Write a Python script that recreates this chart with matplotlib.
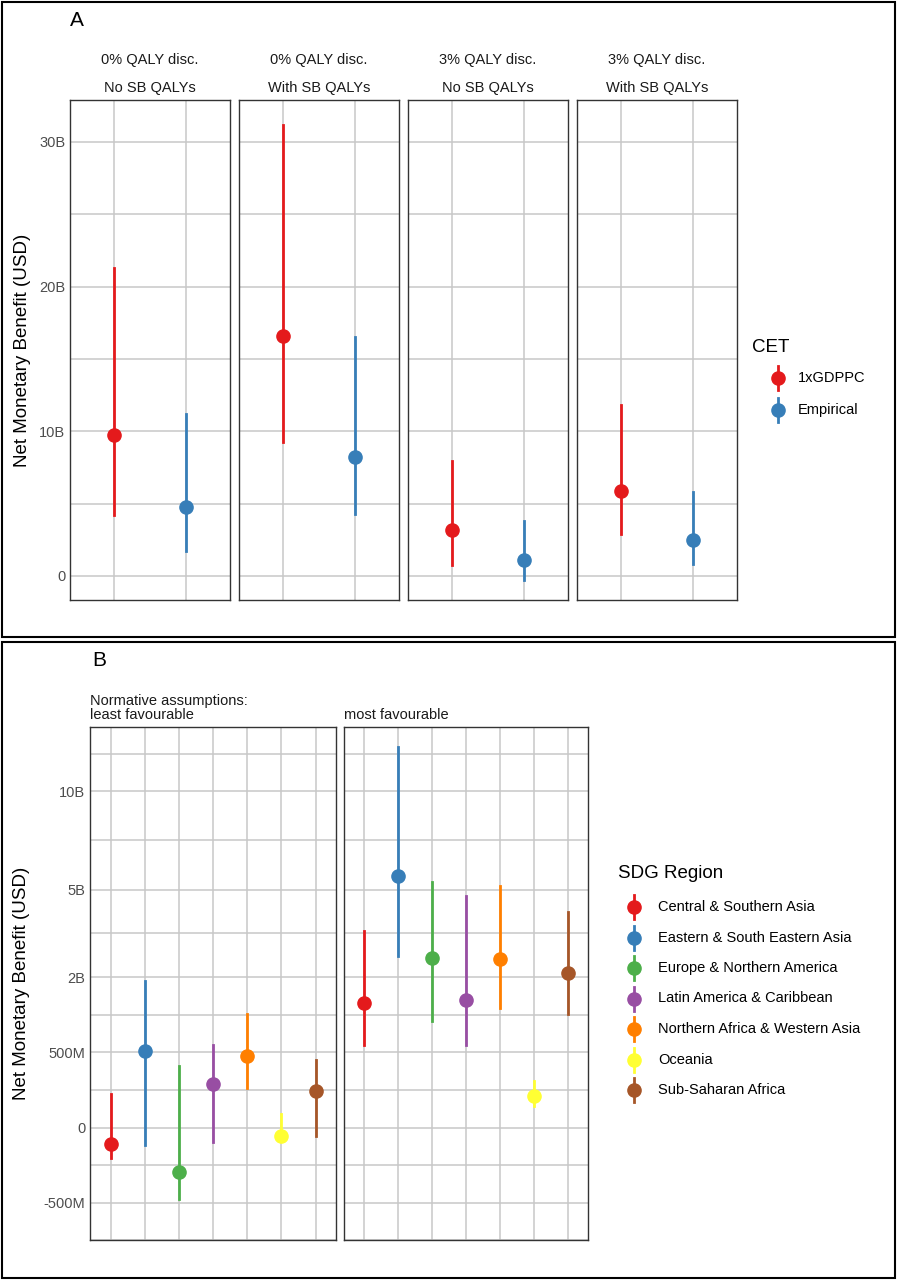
import numpy as np
import matplotlib
matplotlib.use("Agg")
import matplotlib.pyplot as plt
from matplotlib.patches import Rectangle
from matplotlib.lines import Line2D

W, H = 897, 1280
fig = plt.figure(figsize=(W/100, H/100), dpi=100)
plt.rcParams['font.family'] = ['Liberation Sans', 'DejaVu Sans']

def ax_px(x0, y0, x1, y1):
    return fig.add_axes([x0/W, 1-y1/H, (x1-x0)/W, (y1-y0)/H])

# ---------- data ----------
facets_A = ["0% QALY disc.\n\nNo SB QALYs", "0% QALY disc.\n\nWith SB QALYs",
            "3% QALY disc.\n\nNo SB QALYs", "3% QALY disc.\n\nWith SB QALYs"]
cet = ["1xGDPPC", "Empirical"]
A_mid = [[9.75, 4.77], [16.6, 8.2], [3.2, 1.1], [5.9, 2.5]]
A_low = [[4.2, 1.73], [9.26, 4.3], [0.76, -0.28], [2.9, 0.83]]
A_high = [[21.3, 11.2], [31.2, 16.5], [7.95, 3.8], [11.8, 5.8]]
cet_colors = ["#E41A1C", "#377EB8"]

regions = ["Central & Southern Asia", "Eastern & South Eastern Asia", "Europe & Northern America",
           "Latin America & Caribbean", "Northern Africa & Western Asia", "Oceania", "Sub-Saharan Africa"]
reg_colors = ["#E41A1C", "#377EB8", "#4DAF4A", "#984EA3", "#FF7F00", "#FFFF33", "#A65628"]
facets_B = ["Normative assumptions:\nleast favourable", "most favourable"]
B_mid = [[-0.025, 0.52, -0.174, 0.166, 0.457, -0.007, 0.118],
         [1.38, 5.57, 2.54, 1.43, 2.51, 0.088, 2.11]]
B_low = [[-0.082, -0.028, -0.457, -0.019, 0.137, -0.015, -0.007],
         [0.605, 2.60, 1.0, 0.6, 1.26, 0.04, 1.13]]
B_high = [[0.099, 1.90, 0.33, 0.605, 1.13, 0.017, 0.40],
          [3.40, 12.8, 5.32, 4.73, 5.15, 0.19, 4.11]]
B_ticks = [-0.5, 0, 0.5, 2, 5, 10]
B_ticklabels = ["-500M", "0", "500M", "2B", "5B", "10B"]

grid_c = "#C8C8C8"
txt_c = "#4D4D4D"

def style(ax):
    ax.set_facecolor("white")
    for s in ax.spines.values():
        s.set_color("#333333"); s.set_linewidth(1.0)
    ax.tick_params(length=0, colors=txt_c, labelsize=10.5)
    ax.set_axisbelow(True)

# outer boxes
fig.add_artist(Rectangle((2/W, 1-637/H), (W-4)/W, 635/H, transform=fig.transFigure,
                         fill=False, ec="black", lw=1.5))
fig.add_artist(Rectangle((2/W, 1-1278/H), (W-4)/W, 636/H, transform=fig.transFigure,
                         fill=False, ec="black", lw=1.5))
fig.text(70/W, 1-20/H, "A", fontsize=15, va="center")
fig.text(92/W, 1-660/H, "B", fontsize=15, va="center")

# ---------- Panel A ----------
xs = [(70, 230), (239, 399), (408, 568), (577, 737)]
for i, (x0, x1) in enumerate(xs):
    ax = ax_px(x0, 100, x1, 600)
    style(ax)
    ax.set_xlim(0.4, 2.6)
    ax.set_ylim(-1.66, 32.9)
    ax.set_yticks([0, 10, 20, 30])
    ax.set_yticks([5, 15, 25], minor=True)
    ax.set_xticks([1, 2])
    ax.tick_params(which="minor", length=0)
    ax.grid(True, which="both", color=grid_c, lw=1.1)
    ax.set_xticklabels([])
    if i == 0:
        ax.set_yticklabels(["0", "10B", "20B", "30B"])
        ax.set_ylabel("Net Monetary Benefit (USD)", fontsize=13.5, color="black", labelpad=6)
    else:
        ax.set_yticklabels([])
    for j in range(2):
        ax.plot([j+1, j+1], [A_low[i][j], A_high[i][j]], color=cet_colors[j], lw=2)
        ax.plot(j+1, A_mid[i][j], "o", color=cet_colors[j], ms=9.5)
    ax.set_title(facets_A[i], fontsize=10.5, color="#1A1A1A", pad=6, linespacing=1.0)

fig.text(752/W, 1-348/H, "CET", fontsize=13.5, va="center")
for j, lab in enumerate(cet):
    y = 378 + 32*j
    fig.add_artist(Line2D([778/W, 778/W], [1-(y-12)/H, 1-(y+12)/H], color=cet_colors[j], lw=2))
    fig.add_artist(Line2D([778/W], [1-y/H], marker="o", ms=9.5, color=cet_colors[j]))
    fig.text(798/W, 1-y/H, lab, fontsize=10.5, va="center")

# ---------- Panel B ----------
fwd = lambda v: np.sign(v)*np.sqrt(np.abs(v))
inv = lambda v: np.sign(v)*v**2
majs = fwd(np.array(B_ticks))
mins = list((majs[:-1]+majs[1:])/2) + [3.51, majs[0] - 0.35]
xsB = [(90, 336), (344, 588)]
for i, (x0, x1) in enumerate(xsB):
    ax = ax_px(x0, 727, x1, 1240)
    style(ax)
    ax.set_yscale("function", functions=(fwd, inv))
    ax.set_ylim(inv(-0.878), inv(3.765))
    ax.set_xlim(0.4, 7.6)
    ax.set_yticks(B_ticks)
    ax.set_yticks(inv(np.array(mins)), minor=True)
    ax.set_xticks(range(1, 8))
    ax.tick_params(which="minor", length=0, labelleft=False)
    ax.grid(True, which="both", color=grid_c, lw=1.1)
    ax.set_xticklabels([])
    if i == 0:
        ax.set_yticklabels(B_ticklabels)
        ax.set_ylabel("Net Monetary Benefit (USD)", fontsize=13.5, color="black", labelpad=10)
    else:
        ax.set_yticklabels([])
    for j in range(7):
        ax.plot([j+1, j+1], [B_low[i][j], B_high[i][j]], color=reg_colors[j], lw=2)
        ax.plot(j+1, B_mid[i][j], "o", color=reg_colors[j], ms=9.5)
    ax.set_title(facets_B[i], fontsize=10.5, color="#1A1A1A", loc="left", pad=6, linespacing=1.0)

fig.text(618/W, 1-874/H, "SDG Region", fontsize=13.5, va="center")
for j, lab in enumerate(regions):
    y = 907 + 30.5*j
    fig.add_artist(Line2D([634/W, 634/W], [1-(y-12)/H, 1-(y+12)/H], color=reg_colors[j], lw=2))
    fig.add_artist(Line2D([634/W], [1-y/H], marker="o", ms=9.5, color=reg_colors[j]))
    fig.text(658/W, 1-y/H, lab, fontsize=10.5, va="center")

fig.savefig("out.png", dpi=100)
